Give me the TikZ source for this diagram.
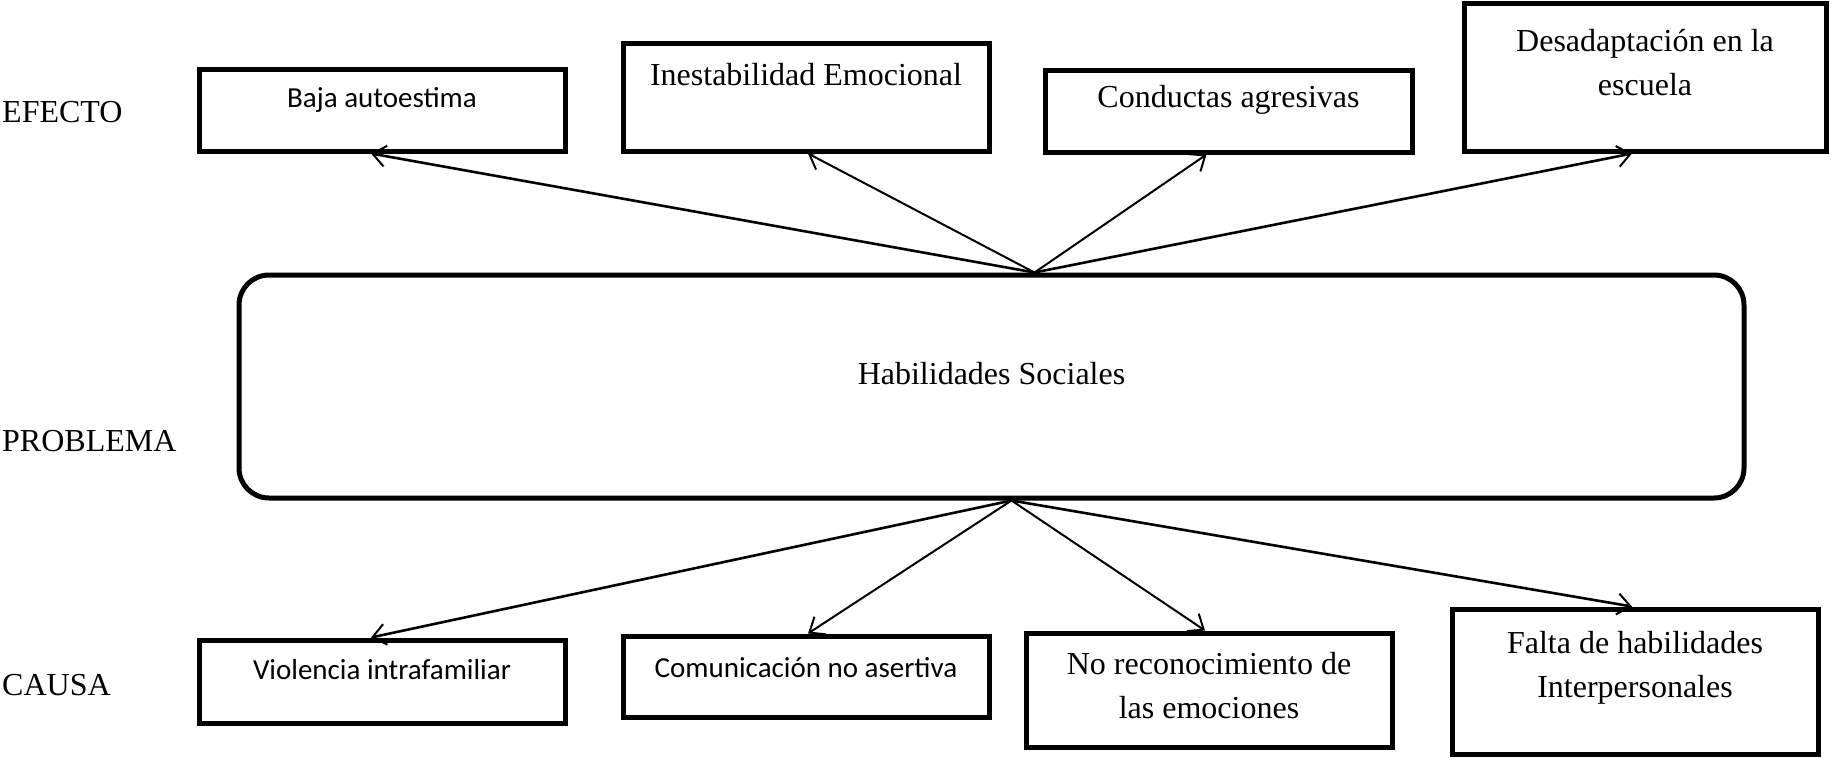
\documentclass[tikz,border=0pt]{standalone}
\usepackage{fontspec}
\setmainfont{Liberation Serif}
\newfontfamily\calibrifont{Carlito}
\usetikzlibrary{arrows.meta,positioning}

\tikzset{
  cfbox/.style={draw=black, line width=5pt, inner sep=0pt, fill=white},
  probbox/.style={cfbox, rounded corners=30pt},
  serifText/.style={font=\fontsize{32}{44}\selectfont, align=center, inner sep=0pt},
  calibText/.style={font=\calibrifont\fontsize{29}{38}\selectfont, align=center, inner sep=0pt},
  levelText/.style={font=\fontsize{32}{40}\selectfont, anchor=west, inner sep=0pt},
  link/.style={line width=2pt, -{Straight Barb[length=13pt,width=21pt,line width=2pt]}},
  linkbold/.style={link, line width=2.6pt}
}

\begin{document}
\begin{tikzpicture}[x=1pt,y=-1pt]
    \useasboundingbox (0,0) rectangle (1831,758);

    % row labels
    \node[levelText] (efecto) at (2,112) {EFECTO};
    \node[levelText] (problema) at (2,441) {PROBLEMA};
    \node[levelText] (causa) at (2,685) {CAUSA};

    % effect boxes
    \node[cfbox, minimum width=366pt, minimum height=82pt] (baja) at (382,110) {};
    \node[cfbox, minimum width=366pt, minimum height=108pt] (inest) at (806,97) {};
    \node[cfbox, minimum width=367pt, minimum height=82pt] (cond) at (1228.5,111) {};
    \node[cfbox, minimum width=362pt, minimum height=148pt] (desad) at (1645,77) {};
    \node[calibText] (bajaT) at (382,100) {Baja autoestima};
    \node[serifText] (inestT) at (806,75) {Inestabilidad Emocional};
    \node[serifText] (condT) at (1228.5,100) {Conductas agresivas};
    \node[serifText] (desadT) at (1645,62.5) {Desadaptación en la\\escuela};

    % problem
    \node[probbox, minimum width=1505pt, minimum height=223pt] (hab) at (991.5,386.5) {};
    \node[serifText] (habT) at (991.5,374) {Habilidades Sociales};

    % cause boxes
    \node[cfbox, minimum width=366pt, minimum height=83pt] (viol) at (382,681.5) {};
    \node[cfbox, minimum width=366pt, minimum height=81pt] (comu) at (806,676.5) {};
    \node[cfbox, minimum width=366pt, minimum height=114pt] (norec) at (1209,690) {};
    \node[cfbox, minimum width=366pt, minimum height=145pt] (falta) at (1635,681.5) {};
    \node[calibText] (violT) at (382,670) {Violencia intrafamiliar};
    \node[calibText] (comuT) at (806,668) {Comunicación no asertiva};
    \node[serifText] (norecT) at (1209,686) {No reconocimiento de\\las emociones};
    \node[serifText] (faltaT) at (1635,667.5) {Falta de habilidades\\Interpersonales};

    % arrows from the problem
    \coordinate (topapex) at ([xshift=43pt]hab.north);
    \coordinate (botapex) at ([xshift=20pt]hab.south);
    \draw[linkbold] (topapex) -- ([xshift=-11pt]baja.south);
    \draw[link] (topapex) -- ([xshift=2pt]inest.south);
    \draw[link] (topapex) -- ([xshift=-22pt]cond.south);
    \draw[linkbold] (topapex) -- ([xshift=-13pt]desad.south);
    \draw[linkbold] (botapex) -- ([xshift=-11pt]viol.north);
    \draw[link] (botapex) -- ([xshift=2pt]comu.north);
    \draw[link] (botapex) -- ([xshift=-4pt]norec.north);
    \draw[linkbold] (botapex) -- ([xshift=-3pt]falta.north);
\end{tikzpicture}
\end{document}
